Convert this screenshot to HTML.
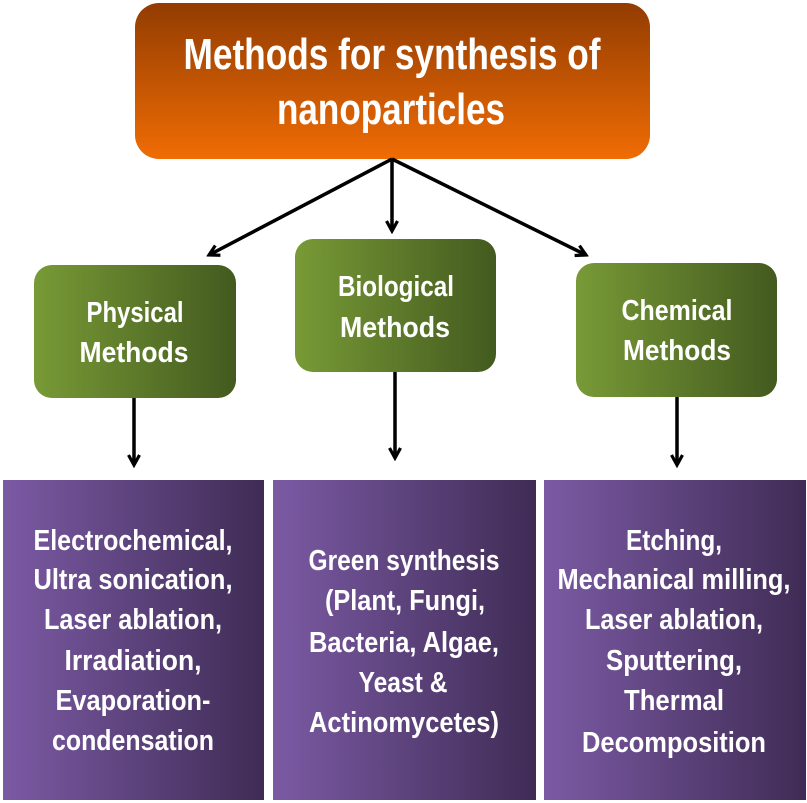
<!DOCTYPE html>
<html><head><meta charset="utf-8"><style>
html,body{margin:0;padding:0;background:#fff;width:807px;height:803px;overflow:hidden}
svg{display:block}
text{font-family:"Liberation Sans",sans-serif;font-weight:bold;fill:#fff}
</style></head><body>
<svg width="807" height="803" viewBox="0 0 807 803" xmlns="http://www.w3.org/2000/svg">
<defs>
<linearGradient id="og" x1="0" y1="0" x2="0" y2="1"><stop offset="0" stop-color="#923c02"/><stop offset="1" stop-color="#f06c04"/></linearGradient>
<linearGradient id="gg" x1="0" y1="0" x2="1" y2="0"><stop offset="0" stop-color="#789a36"/><stop offset="1" stop-color="#435a1f"/></linearGradient>
<linearGradient id="pg" x1="0" y1="0" x2="1" y2="0"><stop offset="0" stop-color="#7b5aa4"/><stop offset="1" stop-color="#3f2c55"/></linearGradient>
<marker id="ah" markerWidth="14" markerHeight="14" refX="11" refY="7" orient="auto" markerUnits="userSpaceOnUse"><path d="M1,1.5 L11,7 L1,12.5" fill="none" stroke="#000" stroke-width="3.2"/></marker>
</defs>
<rect x="135" y="3" width="515" height="156" rx="24" fill="url(#og)"/>
<text x="392" y="69" font-size="44" text-anchor="middle" textLength="417" lengthAdjust="spacingAndGlyphs">Methods for synthesis of</text>
<text x="391" y="124" font-size="44" text-anchor="middle" textLength="228" lengthAdjust="spacingAndGlyphs">nanoparticles</text>

<g stroke="#000" stroke-width="3.5" fill="none">
<line x1="392" y1="159" x2="209" y2="255" marker-end="url(#ah)"/>
<line x1="392" y1="159" x2="392" y2="231" marker-end="url(#ah)"/>
<line x1="392" y1="159" x2="586" y2="255" marker-end="url(#ah)"/>
<line x1="134" y1="398" x2="134" y2="465" marker-end="url(#ah)"/>
<line x1="395" y1="372" x2="395" y2="458" marker-end="url(#ah)"/>
<line x1="677" y1="397" x2="677" y2="465" marker-end="url(#ah)"/>
</g>

<rect x="34" y="265" width="202" height="133" rx="18" fill="url(#gg)"/>
<rect x="295" y="239" width="201" height="133" rx="18" fill="url(#gg)"/>
<rect x="576" y="263" width="201" height="134" rx="18" fill="url(#gg)"/>
<g font-size="29" text-anchor="middle">
<text x="135" y="322" textLength="97" lengthAdjust="spacingAndGlyphs">Physical</text>
<text x="134" y="362" textLength="109" lengthAdjust="spacingAndGlyphs">Methods</text>
<text x="396" y="296" textLength="116" lengthAdjust="spacingAndGlyphs">Biological</text>
<text x="395" y="337" textLength="110" lengthAdjust="spacingAndGlyphs">Methods</text>
<text x="677" y="320" textLength="111" lengthAdjust="spacingAndGlyphs">Chemical</text>
<text x="677" y="360" textLength="108" lengthAdjust="spacingAndGlyphs">Methods</text>
</g>

<rect x="3" y="480" width="261" height="320" fill="url(#pg)"/>
<rect x="273" y="480" width="263" height="320" fill="url(#pg)"/>
<rect x="544" y="480" width="262" height="320" fill="url(#pg)"/>
<g font-size="29" text-anchor="middle">
<text x="133" y="550" textLength="199" lengthAdjust="spacingAndGlyphs">Electrochemical,</text>
<text x="133" y="589" textLength="199" lengthAdjust="spacingAndGlyphs">Ultra sonication,</text>
<text x="133" y="629" textLength="178" lengthAdjust="spacingAndGlyphs">Laser ablation,</text>
<text x="133" y="670" textLength="137" lengthAdjust="spacingAndGlyphs">Irradiation,</text>
<text x="133" y="710" textLength="155" lengthAdjust="spacingAndGlyphs">Evaporation-</text>
<text x="133" y="750" textLength="162" lengthAdjust="spacingAndGlyphs">condensation</text>

<text x="404" y="570" textLength="191" lengthAdjust="spacingAndGlyphs">Green synthesis</text>
<text x="405" y="610" textLength="160" lengthAdjust="spacingAndGlyphs">(Plant, Fungi,</text>
<text x="404" y="652" textLength="190" lengthAdjust="spacingAndGlyphs">Bacteria, Algae,</text>
<text x="403" y="692" textLength="89" lengthAdjust="spacingAndGlyphs">Yeast &amp;</text>
<text x="404" y="732" textLength="190" lengthAdjust="spacingAndGlyphs">Actinomycetes)</text>

<text x="674" y="550" textLength="96" lengthAdjust="spacingAndGlyphs">Etching,</text>
<text x="674" y="589" textLength="233" lengthAdjust="spacingAndGlyphs">Mechanical milling,</text>
<text x="674" y="629" textLength="178" lengthAdjust="spacingAndGlyphs">Laser ablation,</text>
<text x="674" y="670" textLength="136" lengthAdjust="spacingAndGlyphs">Sputtering,</text>
<text x="674" y="710" textLength="100" lengthAdjust="spacingAndGlyphs">Thermal</text>
<text x="674" y="752" textLength="184" lengthAdjust="spacingAndGlyphs">Decomposition</text>
</g>
</svg>
</body></html>
